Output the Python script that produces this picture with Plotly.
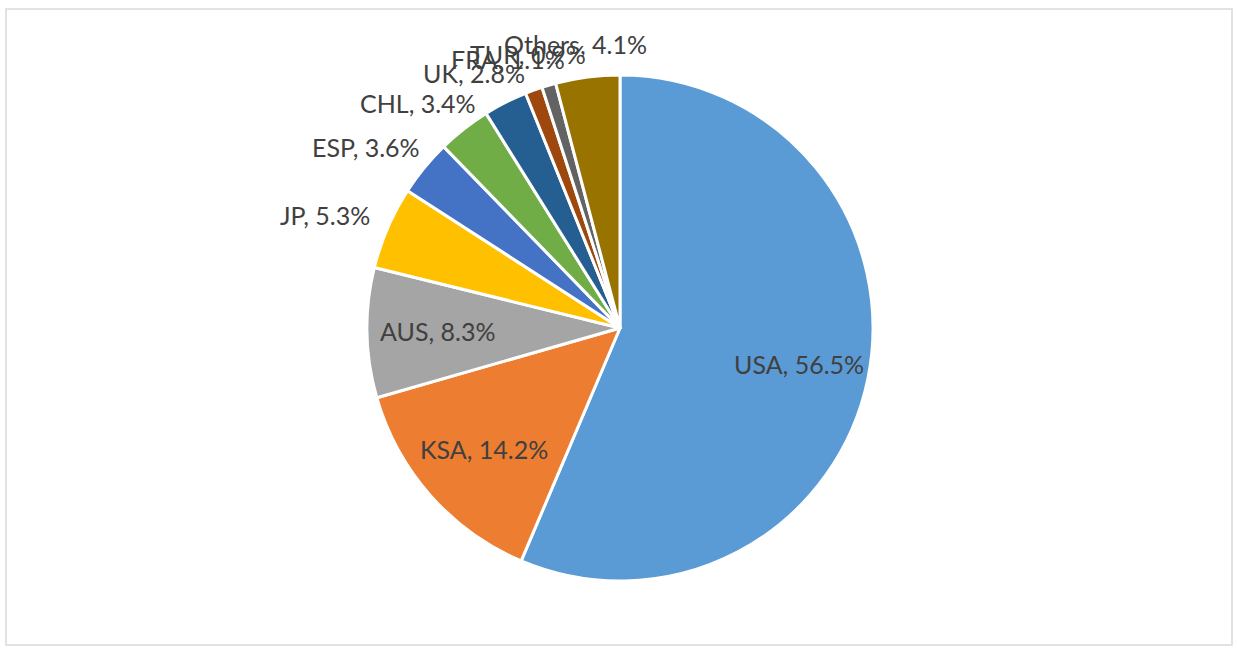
import math
import plotly.graph_objects as go

labels = ["USA", "KSA", "AUS", "JP", "ESP", "CHL", "UK", "FRA", "TUR", "Others"]
shares = [56.5, 14.2, 8.3, 5.3, 3.6, 3.4, 2.8, 1.1, 0.9, 4.1]
colors = ["#5B9BD5", "#ED7D31", "#A5A5A5", "#FFC000", "#4472C4",
          "#70AD47", "#255E91", "#9E480E", "#636363", "#997300"]
label_inside = [True, True, True, False, False, False, False, False, False, False]

W, H = 1237, 651
cx, cy, r = 620, 328, 253
FONT = dict(family="Lato", size=25, color="#404040")

fig = go.Figure(go.Pie(
    labels=labels,
    values=shares,
    sort=False,
    direction="clockwise",
    rotation=0,
    marker=dict(colors=colors, line=dict(color="white", width=3)),
    textinfo="none",
    automargin=False,
    showlegend=False,
    hoverinfo="label+value",
    domain=dict(x=[(cx - r) / W, (cx + r) / W],
                y=[(H - cy - r) / H, (H - cy + r) / H]),
))

# data labels, placed Excel-style from each slice's mid angle
total = sum(shares)
annotations = []
cum = 0.0
for lab, val, inside in zip(labels, shares, label_inside):
    mid = (cum + val / 2) / total * 2 * math.pi
    cum += val
    s, c = math.sin(mid), math.cos(mid)
    text = f"{lab}, {val:.1f}%"
    if inside:
        R = 0.72 * r
        px, py = cx + R * s, cy - R * c
    else:
        R = r + 19
        w, h = len(text) * 12.4, 28
        px = cx + R * s + w / 2 * s
        py = cy - R * c - h / 2 * c
    annotations.append(dict(
        x=px / W, y=1 - py / H, xref="paper", yref="paper",
        text=text, showarrow=False, xanchor="center", yanchor="middle",
        font=FONT,
    ))

fig.update_layout(
    width=W, height=H,
    margin=dict(l=0, r=0, t=0, b=0),
    paper_bgcolor="white",
    plot_bgcolor="white",
    annotations=annotations,
    shapes=[dict(type="rect", xref="paper", yref="paper",
                 x0=6 / W, x1=1232 / W, y0=1 - 645 / H, y1=1 - 9 / H,
                 line=dict(color="#D9D9D9", width=1.5), layer="below")],
)

fig.write_html("out.html", config={"displayModeBar": False},
               post_script="document.body.style.margin='0';")
